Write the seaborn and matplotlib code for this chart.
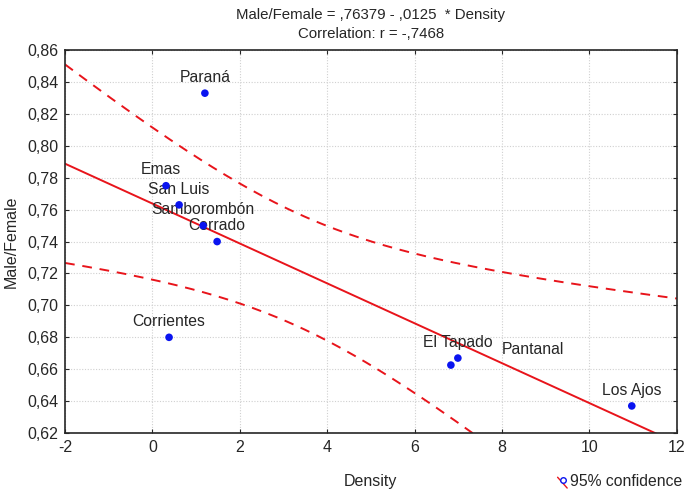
import numpy as np
import pandas as pd
import matplotlib
matplotlib.use("Agg")
import matplotlib.pyplot as plt
import seaborn as sns

# site data
sites = ["Paraná", "Emas", "San Luis", "Samborombón", "Cerrado",
         "Corrientes", "Pantanal", "El Tapado", "Los Ajos"]
density = [1.20, 0.31, 0.61, 1.16, 1.48, 0.38, 6.83, 6.99, 10.97]
ratio = [0.833, 0.775, 0.763, 0.750, 0.740, 0.680, 0.6626, 0.667, 0.637]

# label offsets in points (x, y) relative to each point
label_dx = [0, -4, 0, 0, 0, 0, 59, 0, 0]
label_dy = [6, 6, 6, 6, 6, 6, 6, 6, 6]

# fitted line from the title
intercept = 0.76379
slope = -0.0125
t_crit = 2.3646  # t(0.975, df=7)

df = pd.DataFrame({"site": sites, "Density": density, "Male/Female": ratio})

sns.set_style("ticks")
plt.rcParams["font.family"] = ["Liberation Sans", "DejaVu Sans"]

fig, ax = plt.subplots(figsize=(6.85, 4.91), dpi=100)

# regression line and 95% confidence band
xs = np.linspace(-2, 12, 200)
x = df["Density"].to_numpy()
y = df["Male/Female"].to_numpy()
n = len(x)
resid = y - (intercept + slope * x)
s = np.sqrt(np.sum(resid ** 2) / (n - 2))
sxx = np.sum((x - x.mean()) ** 2)
fit = intercept + slope * xs
half = t_crit * s * np.sqrt(1 / n + (xs - x.mean()) ** 2 / sxx)

ax.plot(xs, fit, color="#e8141b", lw=1.4)
ax.plot(xs, fit + half, color="#e8141b", lw=1.4, ls=(0, (5, 4)))
ax.plot(xs, fit - half, color="#e8141b", lw=1.4, ls=(0, (5, 4)))

sns.scatterplot(data=df, x="Density", y="Male/Female", color="#0a14f0",
                s=30, edgecolor="none", ax=ax, zorder=5)

for i, row in df.iterrows():
    ax.annotate(row["site"], (row["Density"], row["Male/Female"]),
                xytext=(label_dx[i], label_dy[i]), textcoords="offset points",
                ha="center", va="bottom", fontsize=11.3)

yt = np.arange(0.62, 0.861, 0.02)
ax.set_xlim(-2, 12)
ax.set_ylim(0.62, 0.86)
ax.set_xticks(np.arange(-2, 13, 2))
ax.set_yticks(yt)
ax.set_yticklabels([f"{v:.2f}".replace(".", ",") for v in yt])
ax.set_xticklabels([str(v) for v in range(-2, 13, 2)])
ax.grid(True, color="#d0d0d0", ls=(0, (1, 1.5)), lw=0.8)
ax.tick_params(direction="in", length=3, top=True, right=True,
               labeltop=False, labelright=False, labelsize=11.5, pad=5)
for sp in ax.spines.values():
    sp.set_linewidth(1.2)
    sp.set_visible(True)

ax.set_xlabel("Density", fontsize=11.5, labelpad=14)
ax.set_ylabel("Male/Female", fontsize=11.5, labelpad=6)
ax.set_title("Male/Female = ,76379 - ,0125  * Density\nCorrelation: r = -,7468",
             fontsize=10.8, pad=9, linespacing=1.45)

# legend entry at bottom right
fig.text(0.832, 0.019, "95% confidence", fontsize=11.3, ha="left", va="center")
fig.lines.append(plt.Line2D([0.814, 0.828], [0.028, 0.006], transform=fig.transFigure,
                            color="#e8141b", lw=1))
fig.lines.append(plt.Line2D([0.822], [0.022], transform=fig.transFigure, marker="o",
                            mfc="white", mec="#0a14f0", ms=4, lw=0))

fig.subplots_adjust(left=0.095, right=0.988, top=0.898, bottom=0.118)
fig.savefig("out.png", dpi=100)
